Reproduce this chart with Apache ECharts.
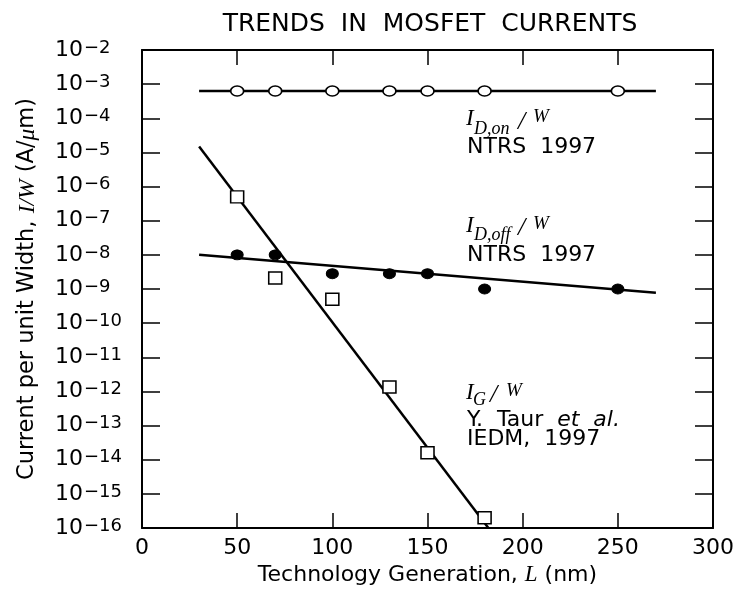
<!DOCTYPE html>
<html>
<head>
<meta charset="utf-8">
<script src="https://cdn.jsdelivr.net/npm/echarts@6/dist/echarts.min.js"></script>
<style>
html,body{margin:0;padding:0;background:#fff;}
#c{width:741px;height:594px;}
</style>
</head>
<body>
<div id="c"></div>
<script>
// ---- data ----
const genOn = [50, 70, 100, 130, 150, 180, 250];
const idOn = [6.3e-4, 6.3e-4, 6.3e-4, 6.3e-4, 6.3e-4, 6.3e-4, 6.3e-4];
const genOff = [50, 70, 100, 130, 150, 180, 250];
const idOff = [1e-8, 1e-8, 2.8e-9, 2.8e-9, 2.8e-9, 1e-9, 1e-9];
const genG = [50, 70, 100, 130, 150, 180];
const iG = [5e-7, 2.1e-9, 5e-10, 1.35e-12, 1.6e-14, 2e-16];
// fitted trend lines (end points)
const fitOnX = [30, 270];
const fitOnY = [6.3e-4, 6.3e-4];
const fitOffX = [30, 270];
const fitOffY = [1e-8, 7.8e-10];
const fitGX = [30, 182];
const fitGY = [1.5e-5, 1e-16];
// tick labels
const xTicks = [0, 50, 100, 150, 200, 250, 300];
const yExponents = [-2, -3, -4, -5, -6, -7, -8, -9, -10, -11, -12, -13, -14, -15, -16];

const pairs = (xs, ys) => xs.map((x, i) => [x, ys[i]]);

const SANS = 'DejaVu Sans';
const SERIF = 'Liberation Serif';

const chart = echarts.init(document.getElementById('c'), null, {renderer: 'canvas'});

function txt(x, y, text, size, opts) {
  opts = opts || {};
  return {
    type: 'text', x: x, y: y, silent: true,
    style: {
      text: text, fill: '#000',
      font: (opts.style || 'normal') + ' ' + (opts.weight || 'normal') + ' ' + size + 'px "' + (opts.family || SANS) + '"',
      textAlign: opts.align || 'left', textVerticalAlign: 'middle'
    }
  };
}
const it = {family: SERIF, style: 'italic'};

const graphics = [
  txt(430, 24, 'TRENDS  IN  MOSFET  CURRENTS', 25, {align: 'center'}),
  // I_D,on / W
  txt(466, 119, 'I', 23, it),
  txt(474, 129, 'D,on', 18, it),
  txt(518, 122, '/', 26, it),
  txt(533, 117, 'W', 19, it),
  txt(467, 147, 'NTRS  1997', 22),
  // I_D,off / W
  txt(466, 225.5, 'I', 23, it),
  txt(474, 235, 'D,off', 18, it),
  txt(518, 228, '/', 26, it),
  txt(533, 223.5, 'W', 19, it),
  txt(467, 255, 'NTRS  1997', 22),
  // I_G / W
  txt(466, 392.5, 'I', 23, it),
  txt(473, 400, 'G', 18, it),
  txt(490, 395, '/', 26, it),
  txt(506, 391, 'W', 19, it),
  {
    type: 'text', x: 467, y: 420.5, silent: true,
    style: {
      text: '{n|Y.  Taur  }{o|et  al.}', textVerticalAlign: 'middle',
      rich: {
        n: {fontFamily: SANS, fontSize: 22, fill: '#000'},
        o: {fontFamily: SANS, fontSize: 22, fontStyle: 'italic', fill: '#000'}
      }
    }
  },
  txt(467, 439.5, 'IEDM,  1997', 22)
];

const frameLine = {show: true, onZero: false, lineStyle: {color: '#000', width: 2}};

const option = {
  animation: false,
  backgroundColor: '#fff',
  grid: {left: 142, right: 28, top: 50, bottom: 66, containLabel: false},
  xAxis: [
    {
      type: 'value', min: 0, max: 300, interval: 50, position: 'bottom',
      name: 'Technology Generation, {i|L} (nm)', nameLocation: 'middle', nameGap: 29,
      nameTextStyle: {
        fontFamily: SANS, fontSize: 22, color: '#000',
        rich: {i: {fontFamily: SERIF, fontStyle: 'italic', fontSize: 23, color: '#000'}}
      },
      axisLine: frameLine,
      axisTick: {show: true, inside: true, length: 15, lineStyle: {color: '#000', width: 1.5}},
      axisLabel: {
        margin: 9, fontFamily: SANS, fontSize: 22, color: '#000',
        formatter: v => (xTicks.indexOf(v) >= 0 ? String(v) : '')
      },
      splitLine: {show: false}
    },
    {
      type: 'value', min: 0, max: 300, interval: 50, position: 'top',
      axisLine: frameLine,
      axisTick: {show: true, inside: true, length: 15, lineStyle: {color: '#000', width: 1.5}},
      axisLabel: {show: false},
      splitLine: {show: false}
    }
  ],
  yAxis: [
    {
      type: 'log', logBase: 10, min: 1e-16, max: 1e-2, interval: 1, position: 'left',
      name: 'Current per unit Width, {i|I/W} (A/{i|μ}m)', nameLocation: 'middle',
      nameRotate: 90, nameGap: 103,
      nameTextStyle: {
        fontFamily: SANS, fontSize: 22.5, color: '#000',
        rich: {i: {fontFamily: SERIF, fontStyle: 'italic', fontSize: 23.5, color: '#000'}}
      },
      axisLine: frameLine,
      axisTick: {show: true, inside: true, length: 18, lineStyle: {color: '#000', width: 1.5}},
      axisLabel: {
        align: 'left', margin: 87,
        formatter: function (v) {
          const e = Math.round(Math.log10(v));
          const idx = yExponents.indexOf(e);
          if (idx < 0) return '';
          return '{b|10}{s|\u2212' + Math.abs(yExponents[idx]) + '}';
        },
        rich: {
          b: {fontFamily: SANS, fontSize: 22, color: '#000', verticalAlign: 'bottom', padding: [10, 0, 0, 0], lineHeight: 22},
          s: {fontFamily: SANS, fontSize: 18, color: '#000', verticalAlign: 'top', lineHeight: 18, padding: [0, 0, 0, 1]}
        }
      },
      splitLine: {show: false}
    },
    {
      type: 'log', logBase: 10, min: 1e-16, max: 1e-2, interval: 1, position: 'right',
      axisLine: frameLine,
      axisTick: {show: true, inside: true, length: 18, lineStyle: {color: '#000', width: 1.5}},
      axisLabel: {show: false},
      splitLine: {show: false}
    }
  ],
  series: [
    {type: 'line', data: pairs(fitOnX, fitOnY), symbol: 'none', lineStyle: {color: '#000', width: 2.5}, z: 2},
    {type: 'line', data: pairs(fitOffX, fitOffY), symbol: 'none', lineStyle: {color: '#000', width: 2.5}, z: 2},
    {type: 'line', data: pairs(fitGX, fitGY), symbol: 'none', lineStyle: {color: '#000', width: 2.5}, z: 2},
    {type: 'scatter', data: pairs(genOn, idOn), symbol: 'circle', symbolSize: [13, 10],
      itemStyle: {color: '#fff', borderColor: '#000', borderWidth: 1.5, opacity: 1}, z: 3},
    {type: 'scatter', data: pairs(genOff, idOff), symbol: 'circle', symbolSize: [12, 10],
      itemStyle: {color: '#000', borderColor: '#000', borderWidth: 1, opacity: 1}, z: 3},
    {type: 'scatter', data: pairs(genG, iG), symbol: 'rect', symbolSize: [13, 12],
      itemStyle: {color: '#fff', borderColor: '#000', borderWidth: 1.5, opacity: 1}, z: 3}
  ],
  graphic: graphics
};
chart.setOption(option);
</script>
</body>
</html>
